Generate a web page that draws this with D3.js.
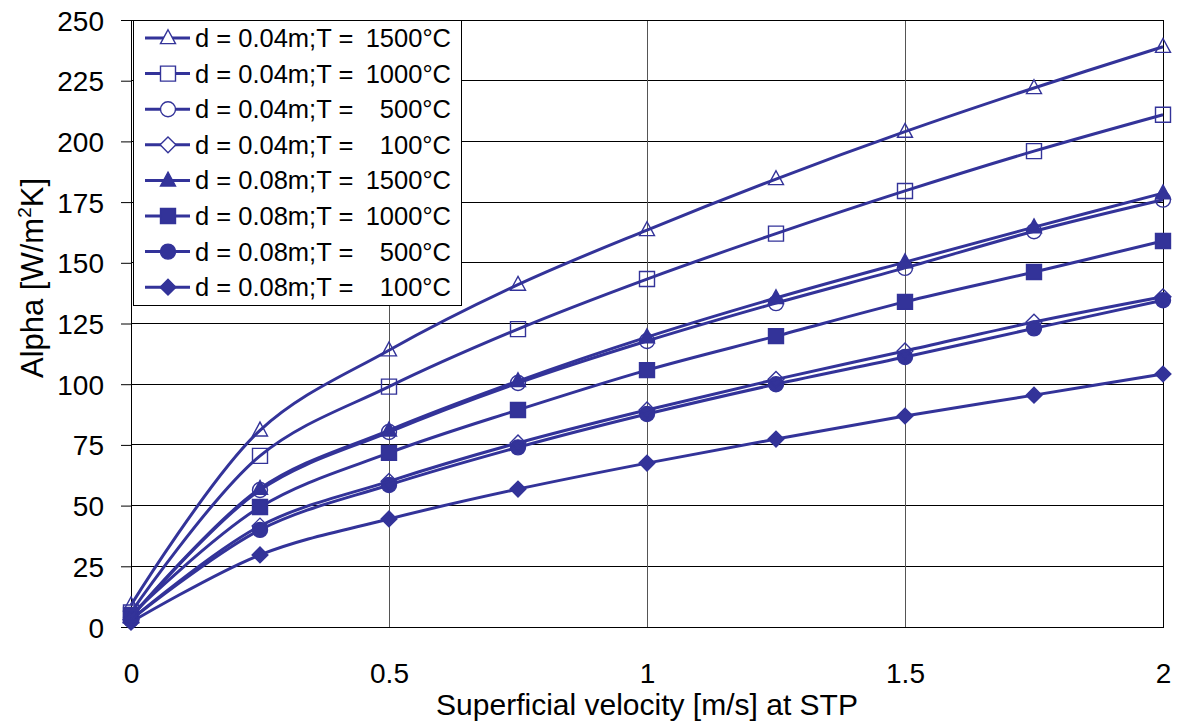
<!DOCTYPE html>
<html>
<head>
<meta charset="utf-8">
<script src="https://cdn.jsdelivr.net/npm/d3@7"></script>
<style>
  body { margin: 0; background: #fff; }
  text { font-family: "Liberation Sans", Arial, sans-serif; fill: #000; }
</style>
</head>
<body>
<svg id="chart" width="1177" height="725"></svg>
<script>
// Superficial velocity [m/s] at STP
const velocities = [0, 0.25, 0.5, 0.75, 1, 1.25, 1.5, 1.75, 2];

// Alpha [W/m2K] per series
const d04T1500 = [9, 81, 114, 141, 163.5, 184.5, 204, 222, 239];
const d04T1000 = [6, 70.5, 99, 122.7, 143.3, 162, 179.6, 196, 211];
const d04T500 = [4, 56.4, 80.3, 100.5, 117.8, 133.4, 147.9, 163, 176];
const d04T100 = [3, 41.6, 60, 75.8, 89.4, 102, 113.7, 125.6, 136];
const d08T1500 = [4, 57, 81, 101.3, 119.4, 135.5, 150.3, 164.7, 178.7];
const d08T1000 = [5, 49.4, 71.7, 89.4, 105.8, 119.8, 133.9, 146.2, 159];
const d08T500 = [3, 40, 58.5, 74, 87.7, 100, 111.2, 123, 134.6];
const d08T100 = [2, 29.7, 44.5, 56.8, 67.5, 77.4, 86.9, 95.5, 104.2];

const seriesLabels = [
  ['d = 0.04m;T =', '1500°C'],
  ['d = 0.04m;T =', '1000°C'],
  ['d = 0.04m;T =', '500°C'],
  ['d = 0.04m;T =', '100°C'],
  ['d = 0.08m;T =', '1500°C'],
  ['d = 0.08m;T =', '1000°C'],
  ['d = 0.08m;T =', '500°C'],
  ['d = 0.08m;T =', '100°C']
];
const seriesValues = [d04T1500, d04T1000, d04T500, d04T100, d08T1500, d08T1000, d08T500, d08T100];
const seriesMarkers = ['triangle', 'square', 'circle', 'diamond', 'triangle', 'square', 'circle', 'diamond'];
const seriesFilled = [false, false, false, false, true, true, true, true];

const xTicks = [0, 0.5, 1, 1.5, 2];
const yTicks = [0, 25, 50, 75, 100, 125, 150, 175, 200, 225, 250];

const color = '#333399';
const fontFamily = '"Liberation Sans", Arial, sans-serif';
const margin = { top: 20, right: 14, bottom: 98, left: 131 };
const width = 1177, height = 725;
const innerWidth = width - margin.left - margin.right;
const innerHeight = height - margin.top - margin.bottom;

const svg = d3.select('#chart');
const g = svg.append('g').attr('transform', `translate(${margin.left},${margin.top})`);

const x = d3.scaleLinear().domain([0, 2]).range([0, innerWidth]);
const y = d3.scaleLinear().domain([0, 250]).range([innerHeight, 0]);

// grid
g.append('g').selectAll('line').data(yTicks).join('line')
  .attr('x1', 0).attr('x2', innerWidth)
  .attr('y1', d => y(d)).attr('y2', d => y(d))
  .attr('stroke', '#000').attr('stroke-width', 1).attr('shape-rendering', 'crispEdges');
g.append('g').selectAll('line').data(xTicks).join('line')
  .attr('x1', d => x(d)).attr('x2', d => x(d))
  .attr('y1', 0).attr('y2', innerHeight)
  .attr('stroke', '#555').attr('stroke-width', 1).attr('shape-rendering', 'crispEdges');

// axes
const yAxis = g.append('g')
  .call(d3.axisLeft(y).tickValues(yTicks).tickSize(10).tickPadding(17));
yAxis.select('.domain').attr('stroke', '#000');
yAxis.selectAll('.tick line').attr('stroke', '#000');
yAxis.selectAll('text').attr('font-size', 28).attr('dy', '0.36em').style('font-family', fontFamily);

const xAxis = g.append('g').attr('transform', `translate(0,${innerHeight})`)
  .call(d3.axisBottom(x).tickValues(xTicks).tickSize(0).tickPadding(36).tickFormat(d3.format('')));
xAxis.select('.domain').attr('stroke', '#000');
xAxis.selectAll('text').attr('font-size', 28).style('font-family', fontFamily);

// plot frame (top/right)
g.append('rect').attr('x', 0).attr('y', 0).attr('width', innerWidth).attr('height', innerHeight)
  .attr('fill', 'none').attr('stroke', '#000').attr('stroke-width', 1).attr('shape-rendering', 'crispEdges');

// axis titles
svg.append('text')
  .attr('x', margin.left + innerWidth / 2).attr('y', 715)
  .attr('text-anchor', 'middle').attr('font-size', 30)
  .text('Superficial velocity [m/s] at STP');

const yTitle = svg.append('text')
  .attr('transform', 'translate(43,278) rotate(-90)')
  .attr('text-anchor', 'middle').attr('font-size', 31);
yTitle.append('tspan').text('Alpha [W/m');
yTitle.append('tspan').attr('font-size', 19).attr('dy', -12).text('2');
yTitle.append('tspan').attr('dy', 12).text('K]');

// marker shapes
function markerPath(type, size) {
  const s = size / 2;
  switch (type) {
    case 'triangle': return `M0,${-s * 1.1}L${s},${s * 0.75}L${-s},${s * 0.75}Z`;
    case 'square': return `M${-s},${-s}H${s}V${s}H${-s}Z`;
    case 'diamond': return `M0,${-s * 1.05}L${s * 1.05},0L0,${s * 1.05}L${-s * 1.05},0Z`;
    default: return d3.symbol(d3.symbolCircle, Math.PI * s * s)();
  }
}

const line = d3.line()
  .x(d => x(d.v))
  .y(d => y(d.a))
  .curve(d3.curveCatmullRom.alpha(0.5));

const seriesData = seriesValues.map((vals, i) => ({
  i,
  points: vals.map((a, j) => ({ v: velocities[j], a }))
}));

// draw in reverse so the first series ends up on top
seriesData.slice().reverse().forEach(s => {
  const sg = g.append('g');
  sg.append('path')
    .attr('d', line(s.points))
    .attr('fill', 'none').attr('stroke', color).attr('stroke-width', 3);
  sg.selectAll('path.m').data(s.points).join('path')
    .attr('class', 'm')
    .attr('transform', d => `translate(${x(d.v)},${y(d.a)})`)
    .attr('d', markerPath(seriesMarkers[s.i], 15))
    .attr('fill', seriesFilled[s.i] ? color : '#fff')
    .attr('fill-opacity', seriesFilled[s.i] ? 1 : 0)
    .attr('stroke', color).attr('stroke-width', 1.4);
});

// legend
const legend = svg.append('g').attr('transform', 'translate(133,20)');
legend.append('rect')
  .attr('x', 0).attr('y', 0).attr('width', 328).attr('height', 285)
  .attr('fill', '#fff').attr('stroke', '#000').attr('stroke-width', 1).attr('shape-rendering', 'crispEdges');
seriesLabels.forEach((lab, i) => {
  const row = legend.append('g').attr('transform', `translate(0,${18 + i * 35.6})`);
  row.append('line').attr('x1', 12).attr('x2', 57).attr('y1', 0).attr('y2', 0)
    .attr('stroke', color).attr('stroke-width', 3);
  row.append('path').attr('transform', 'translate(35,0)')
    .attr('d', markerPath(seriesMarkers[i], 15))
    .attr('fill', seriesFilled[i] ? color : '#fff')
    .attr('stroke', color).attr('stroke-width', 1.4);
  row.append('text').attr('x', 62).attr('y', 9).attr('font-size', 25.5).text(lab[0]);
  row.append('text').attr('x', 318).attr('y', 9).attr('font-size', 25.5)
    .attr('text-anchor', 'end').text(lab[1]);
});
</script>
</body>
</html>
